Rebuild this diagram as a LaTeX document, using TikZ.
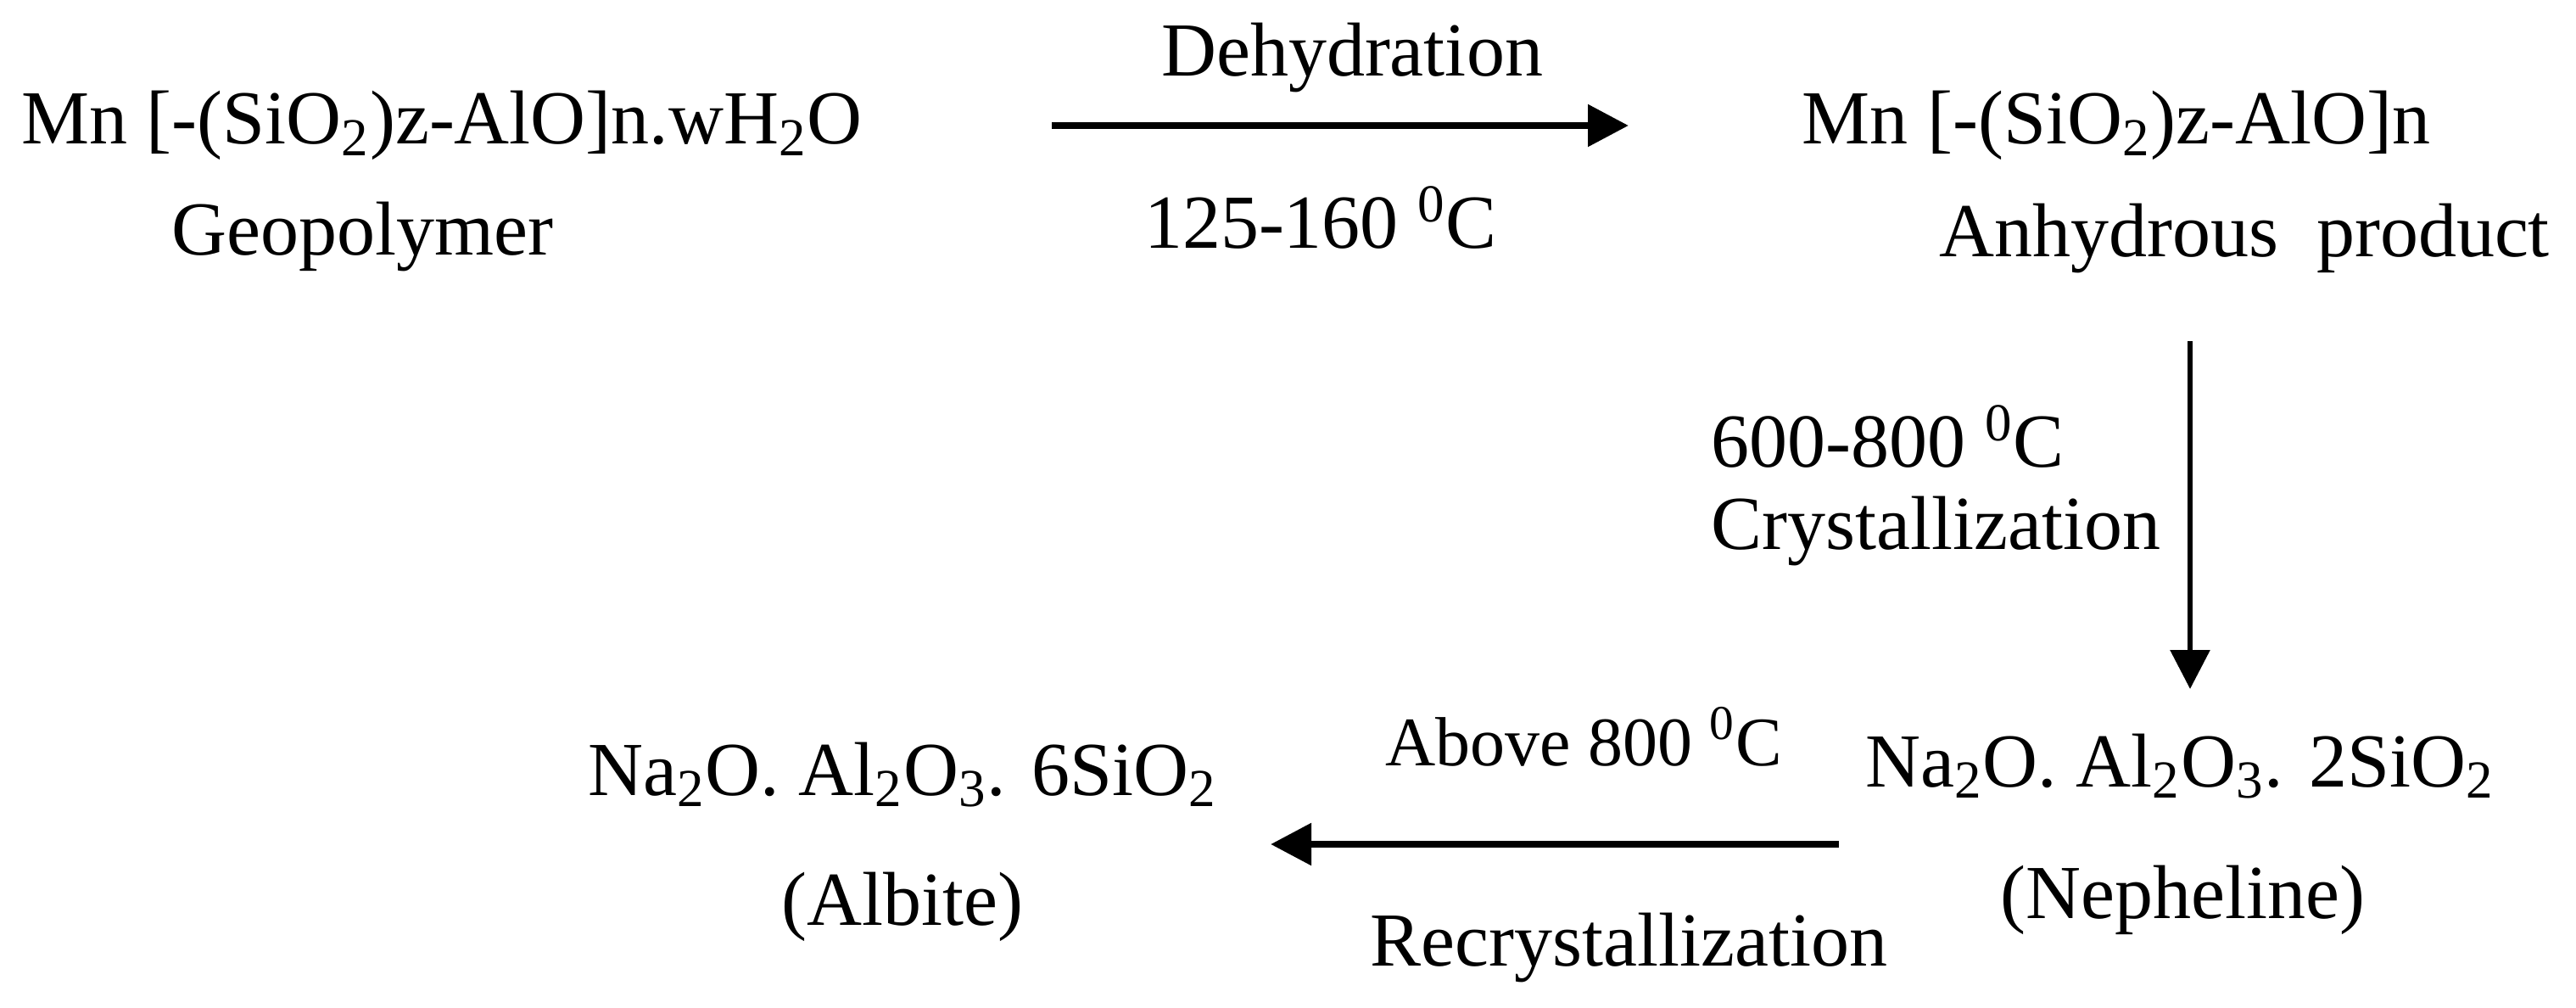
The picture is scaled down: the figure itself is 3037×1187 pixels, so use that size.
\documentclass[tikz,border=0pt]{standalone}
\usepackage{fontspec}
\setmainfont{Liberation Serif}
\usetikzlibrary{arrows.meta}
\newcommand{\chsub}[1]{\textsubscript{#1}}
\newcommand{\degsup}{\textsuperscript{0}}
\begin{document}
\begin{tikzpicture}[x=0.25pt,y=-0.25pt,
  lbl/.style={inner sep=0pt,font=\fontsize{22.5pt}{27pt}\selectfont},
  smalllbl/.style={inner sep=0pt,font=\fontsize{20.5pt}{25pt}\selectfont},
  thickarrow/.style={line width=2.2pt,-{Triangle[length=12pt,width=12pt]}},
  thinarrow/.style={line width=1.5pt,-{Triangle[length=11.5pt,width=11.5pt]}}]
\useasboundingbox (0,0) rectangle (3037,1187);
% top row
\node[lbl,anchor=base] (geo) at (521,170) {Mn [-(SiO\chsub{2})z-AlO]n.wH\chsub{2}O};
\node[lbl,anchor=base] (geolbl) at (427,300) {Geopolymer};
\node[lbl,anchor=base] (dehyd) at (1594,90) {Dehydration};
\node[lbl,anchor=base] (t1) at (1557,292) {125-160 \degsup C};
\node[lbl,anchor=base] (anh) at (2495,170) {Mn [-(SiO\chsub{2})z-AlO]n};
\node[lbl,anchor=base] (anhlbl) at (2646,302) {Anhydrous\ \ product};
% vertical step
\node[lbl,anchor=base west] (t2) at (2017,550) {600-800 \degsup C};
\node[lbl,anchor=base west] (cryst) at (2017,647) {Crystallization};
% bottom row
\node[lbl,anchor=base] (neph) at (2570,927) {Na\chsub{2}O. Al\chsub{2}O\chsub{3}. 2SiO\chsub{2}};
\node[lbl,anchor=base] (nephlbl) at (2573,1082) {(Nepheline)};
\node[smalllbl,anchor=base] (t3) at (1867,902) {Above 800 \degsup C};
\node[lbl,anchor=base] (recr) at (1920,1138) {Recrystallization};
\node[lbl,anchor=base] (alb) at (1064,937) {Na\chsub{2}O. Al\chsub{2}O\chsub{3}. 6SiO\chsub{2}};
\node[lbl,anchor=base] (alblbl) at (1064,1090) {(Albite)};
% arrow ends
\coordinate (a1s) at (1240,148);
\coordinate (a1e) at (1920,148);
\coordinate (a2s) at (2582,402);
\coordinate (a2e) at (2582,812);
\coordinate (a3s) at (2168,995);
\coordinate (a3e) at (1498,995);
\draw[thickarrow] (a1s) -- (a1e);
\draw[thinarrow] (a2s) -- (a2e);
\draw[thickarrow] (a3s) -- (a3e);
\end{tikzpicture}
\end{document}
